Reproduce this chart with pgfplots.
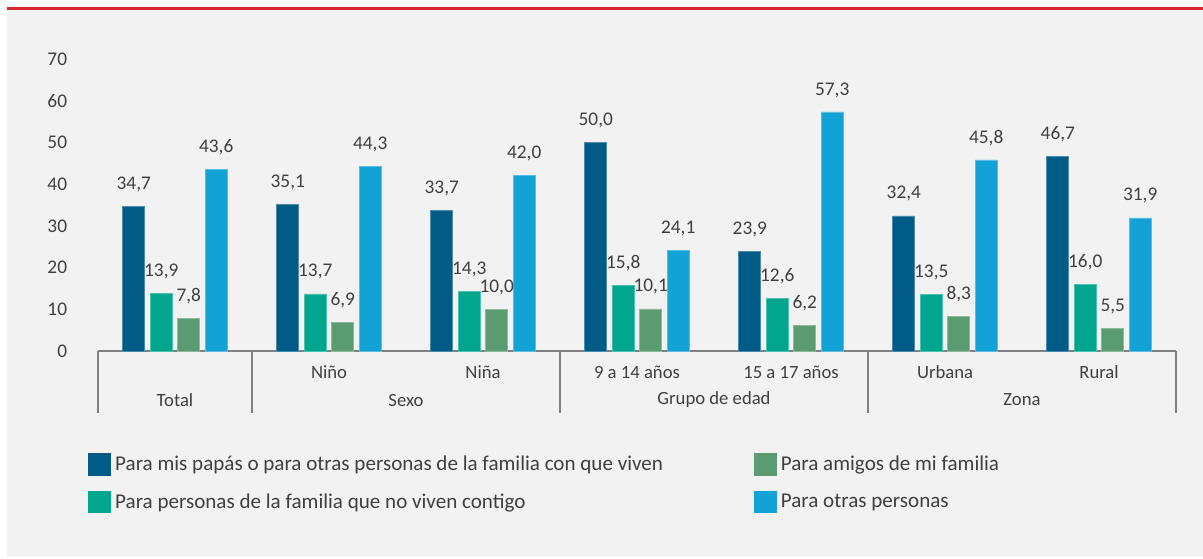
\documentclass[border=0pt]{standalone}
\usepackage{fontspec}
\setmainfont{Carlito}
\usepackage{pgfplots}
\pgfplotsset{compat=1.18}
\definecolor{cDark}{RGB}{0,91,135}
\definecolor{cTeal}{RGB}{0,166,141}
\definecolor{cSage}{RGB}{90,155,114}
\definecolor{cSky}{RGB}{18,162,213}
\definecolor{bgGray}{RGB}{242,242,242}
\definecolor{cRed}{RGB}{212,40,42}
\definecolor{txt}{RGB}{64,64,64}
\definecolor{lineGray}{RGB}{128,128,128}

% 1 px of the reference = 0.75pt
\pgfplotstableread{
x dark teal sage sky
0 34.7 13.9 7.8  43.6
1 35.1 13.7 6.9  44.3
2 33.7 14.3 10.0 42.0
3 50.0 15.8 10.1 24.1
4 23.9 12.6 6.2  57.3
5 32.4 13.5 8.3  45.8
6 46.7 16.0 5.5  31.9
}\data

\begin{document}
\begin{tikzpicture}
\useasboundingbox (0,0) rectangle (902.25pt,-418.5pt);
\fill[white] (0,0) rectangle (902.25pt,-418.5pt);
\fill[bgGray] (5.25pt,-7.5pt) rectangle (902.25pt,-417.75pt);
\fill[cRed] (5.25pt,-5.4pt) rectangle (902.25pt,-7.8pt);
\begin{axis}[
  at={(73.5pt,-263.25pt)}, anchor=south west,
  scale only axis, width=808.5pt, height=219pt,
  xmin=-0.5, xmax=6.5, ymin=0, ymax=70,
  ybar=4.1pt, bar width=16.5pt,
  axis x line*=bottom, axis y line*=left,
  x axis line style={draw=lineGray, line width=0.8pt, -},
  y axis line style={draw=none},
  major tick length=0pt,
  ytick={0,10,...,70},
  xtick={0,...,6},
  xticklabels={,Niño,Niña,9 a 14 años,15 a 17 años,Urbana,Rural},
  xticklabel style={font=\fontsize{14}{16}\selectfont, text=txt, anchor=center, yshift=-15.75pt},
  yticklabel style={font=\fontsize{14.5}{16}\selectfont, text=txt, anchor=east, inner sep=0pt, xshift=-23pt,
    /pgf/number format/assume math mode=true},
  clip=false,
  nodes near coords,
  nodes near coords style={font=\fontsize{14.5}{16}\selectfont, text=txt, anchor=center, yshift=16.5pt,
    /pgf/number format/.cd, fixed, fixed zerofill, precision=1, use comma, assume math mode=true},
  legend columns=2, transpose legend,
  legend cell align=left,
  legend style={at={(-0.0093,-0.344)}, anchor=north west, draw=none, fill=none,
    inner sep=0pt, column sep=0pt, row sep=10pt,
    font=\fontsize{15.8}{17}\selectfont, text=txt,
    nodes={inner sep=3pt}},
  legend image code/.code={\fill[#1,draw=none] (0pt,-8.6pt) rectangle (17.25pt,8.6pt);},
]
\addplot[fill=cDark, draw=cDark!70!white, line width=0.5pt] table[x=x,y=dark] {\data};
\addlegendentry{\makebox[476pt][l]{Para mis papás o para otras personas de la familia con que viven}}
\addplot[fill=cTeal, draw=cTeal!70!white, line width=0.5pt] table[x=x,y=teal] {\data};
\addlegendentry{\makebox[476pt][l]{Para personas de la familia que no viven contigo}}
\addplot[fill=cSage, draw=cSage!70!white, line width=0.5pt] table[x=x,y=sage] {\data};
\addlegendentry{Para amigos de mi familia}
\addplot[fill=cSky, draw=cSky!70!white, line width=0.5pt] table[x=x,y=sky] {\data};
\addlegendentry{Para otras personas}
% category table below the axis
\pgfplotsinvokeforeach{-0.5,0.5,2.5,4.5,6.5}{
  \draw[lineGray, line width=0.8pt] (axis cs:#1,0) -- ++(0pt,-46.5pt);
}
\node[font=\fontsize{14}{16}\selectfont, text=txt] at ([yshift=-36.75pt]axis cs:0,0) {Total};
\node[font=\fontsize{14}{16}\selectfont, text=txt] at ([yshift=-36.75pt]axis cs:1.5,0) {Sexo};
\node[font=\fontsize{14}{16}\selectfont, text=txt] at ([yshift=-36.75pt]axis cs:3.5,0) {Grupo de edad};
\node[font=\fontsize{14}{16}\selectfont, text=txt] at ([yshift=-36.75pt]axis cs:5.5,0) {Zona};
\end{axis}
\end{tikzpicture}
\end{document}
